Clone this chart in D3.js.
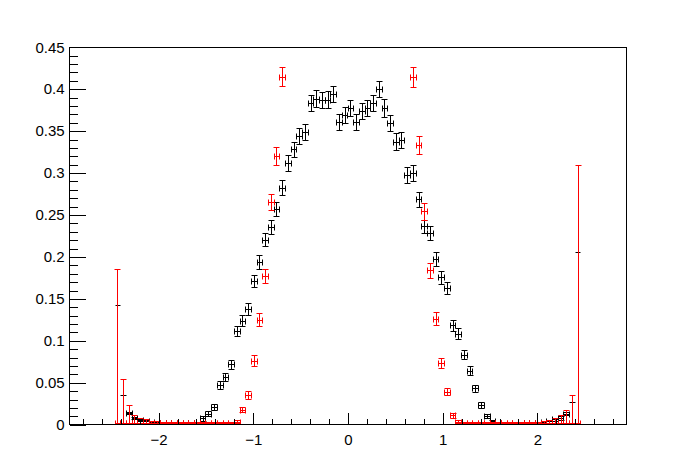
<!DOCTYPE html>
<html>
<head>
<meta charset="utf-8">
<script src="https://cdn.jsdelivr.net/npm/d3@7"></script>
<style>
  body { margin: 0; background: #fff; }
  svg { display: block; }
  text { font-family: "Liberation Sans", Arial, Helvetica, sans-serif; font-size: 15px; }
</style>
</head>
<body>
<div id="chart"></div>
<script>
// histogram binning: 98 bins from -2.94 to 2.94, data starts at bin 8
const xMin = -2.94, xMax = 2.94, nBins = 98;
const firstBin = 8;

// black histogram, bins 8..89
const blackValues = [
  0.142, 0.0347, 0.0137, 0.0077, 0.0054, 0.0045, 0.003, 0.002, 0.0015, 0.001, 0.001, 0.0008, 0.001, 0.001, 0.002,
  0.007, 0.0125, 0.021, 0.047, 0.0566, 0.0716, 0.111, 0.1237, 0.137, 0.171, 0.1936, 0.220, 0.235, 0.257,
  0.282, 0.311, 0.3275, 0.344, 0.3486, 0.383, 0.388, 0.386, 0.387, 0.394, 0.3605, 0.369, 0.377, 0.3605,
  0.373, 0.377, 0.383, 0.400, 0.377, 0.359, 0.337, 0.339, 0.297, 0.2997, 0.268, 0.236, 0.228, 0.197,
  0.1753, 0.1627, 0.118, 0.108, 0.083, 0.064, 0.0427, 0.0228, 0.0101, 0.0035,
  0.001, 0.0008, 0.0008, 0.001, 0.0012, 0.002, 0.002, 0.002, 0.003, 0.0036, 0.006, 0.0075, 0.0125, 0.0268, 0.2055
];
const blackErrors = [
  0, 0, 0.001, 0.0015, 0.001, 0.001, 0.001, 0.0008, 0.0008, 0.0008, 0.0008, 0.0008, 0.0008, 0.0008, 0.001,
  0.0026, 0.003, 0.0036, 0.005, 0.005, 0.0056, 0.0062, 0.0066, 0.0072, 0.0075, 0.0085, 0.008, 0.0083, 0.0083,
  0.0089, 0.0095, 0.0087, 0.0095, 0.0095, 0.0091, 0.0099, 0.0095, 0.0097, 0.0095, 0.0095, 0.0095, 0.0093, 0.0095,
  0.0095, 0.0095, 0.0095, 0.0095, 0.0103, 0.0095, 0.0097, 0.0093, 0.0091, 0.0095, 0.0091, 0.0079, 0.0087, 0.0081,
  0.0077, 0.0073, 0.0067, 0.0062, 0.0057, 0.0056, 0.0046, 0.0036, 0.0026, 0.0015,
  0.0008, 0.0008, 0.0008, 0.0008, 0.001, 0.001, 0.001, 0.001, 0.0015, 0.0015, 0.002, 0.002, 0.002, 0, 0
];

// red histogram, bins 8..89 (null = empty bin, not drawn)
const redValues = [
  0.0015, 0.0015, 0.0015, 0.0015, 0.0015, 0.0015, 0.0015, 0.0015, 0.0015, 0.0015, 0.0015, 0.0015, 0.0015, 0.0015, 0.0015,
  0.0015, 0.0015, 0.0015, 0.0015, 0.0015, 0.0015, 0.003, 0.0176, 0.035, 0.0757, 0.1245, 0.177, 0.265, 0.320,
  0.414, null, null, null, null, null, null, null, null, null, null, null, null, null,
  null, null, null, null, null, null, null, null, null, 0.414, 0.333, 0.254, 0.1833, 0.126,
  0.0725, 0.039, 0.0105, 0.003, 0.0015, 0.0015, 0.0015, 0.0015, 0.0015,
  0.0015, 0.0015, 0.0015, 0.0015, 0.0015, 0.0015, 0.002, 0.002, 0.002, 0.0015, 0.0015, 0.0015, 0.0015, 0.0015, 0.0015, 0.0015
];
const redErrors = [
  0.184, 0.052, 0.021, 0.0095, 0.0056, 0.0044, 0.0027, 0.002, 0.001, 0.001, 0.001, 0.001, 0.001, 0.001, 0.001,
  0.001, 0.001, 0.001, 0.001, 0.001, 0.001, 0.002, 0.0032, 0.0046, 0.0064, 0.0079, 0.0083, 0.0091, 0.0107,
  0.0113, null, null, null, null, null, null, null, null, null, null, null, null, null,
  null, null, null, null, null, null, null, null, null, 0.0115, 0.0107, 0.0101, 0.0095, 0.008,
  0.006, 0.0044, 0.0024, 0.002, 0.001, 0.001, 0.001, 0.001, 0.001,
  0.001, 0.001, 0.001, 0.001, 0.001, 0.001, 0.001, 0.001, 0.0012, 0.003, 0.0035, 0.0056, 0.0097, 0.016, 0.034, 0.307
];

const xMajorTicks = [-2, -1, 0, 1, 2];
const yMajorTicks = [0, 0.05, 0.1, 0.15, 0.2, 0.25, 0.3, 0.35, 0.4, 0.45];

const W = 696, H = 472;
const fLeft = 69.6, fRight = 626.4, fTop = 47.2, fBottom = 424.8;

const svg = d3.select("#chart").append("svg")
  .attr("width", W)
  .attr("height", H);

const x = d3.scaleLinear().domain([xMin, xMax]).range([fLeft, fRight]);
const y = d3.scaleLinear().domain([0, 0.45]).range([fBottom, fTop]);
const binW = (xMax - xMin) / nBins;
const snap = v => Math.round(v - 0.5) + 0.5;

svg.append("clipPath").attr("id", "frameClip")
  .append("rect")
  .attr("x", fLeft).attr("y", fTop)
  .attr("width", fRight - fLeft).attr("height", fBottom - fTop);

function toPoints(values, errors) {
  return values.map((v, i) => ({ k: firstBin + i, v: v, e: errors[i] }))
    .filter(d => d.v !== null);
}

function drawHist(points, color) {
  const g = svg.append("g")
    .attr("clip-path", "url(#frameClip)")
    .attr("stroke", color)
    .attr("stroke-width", 1)
    .attr("fill", "none");
  const cap = 3;
  points.forEach(d => {
    const c = xMin + binW * (d.k + 0.5);
    const x0 = snap(x(c - binW / 2)), x1 = snap(x(c + binW / 2)), xc = snap(x(c));
    const yv = snap(y(d.v));
    // horizontal (bin width) bar
    g.append("line").attr("x1", x0).attr("x2", x1).attr("y1", yv).attr("y2", yv);
    if (d.e > 0) {
      const yt = snap(y(d.v + d.e)), yb = snap(y(d.v - d.e));
      g.append("line").attr("x1", xc).attr("x2", xc).attr("y1", yt).attr("y2", yb);
      g.append("line").attr("x1", xc - cap).attr("x2", xc + cap).attr("y1", yt).attr("y2", yt);
      g.append("line").attr("x1", xc - cap).attr("x2", xc + cap).attr("y1", yb).attr("y2", yb);
      g.append("line").attr("x1", x0).attr("x2", x0).attr("y1", yv - cap).attr("y2", yv + cap);
      g.append("line").attr("x1", x1).attr("x2", x1).attr("y1", yv - cap).attr("y2", yv + cap);
    }
  });
}

drawHist(toPoints(blackValues, blackErrors), "#000");
drawHist(toPoints(redValues, redErrors), "#ff0000");

// frame
svg.append("rect")
  .attr("x", fLeft).attr("y", fTop)
  .attr("width", fRight - fLeft).attr("height", fBottom - fTop)
  .attr("fill", "none").attr("stroke", "#000").attr("stroke-width", 1)
  .attr("shape-rendering", "crispEdges");

// x axis: major and minor ticks pointing up into the frame
const xMinor = d3.range(-28, 29, 2).map(v => v / 10).filter(v => !xMajorTicks.includes(v));
const xAxisG = svg.append("g")
  .attr("transform", `translate(0,${fBottom})`)
  .call(d3.axisBottom(x).tickValues(xMajorTicks).tickSize(-11.3)
    .tickFormat(d => String(d).replace("-", "\u2212")));
xAxisG.select(".domain").remove();
xAxisG.selectAll("text").attr("font-size", 15).attr("fill", "#000").attr("dy", null).attr("y", 20.5);
svg.append("g")
  .attr("transform", `translate(0,${fBottom})`)
  .call(d3.axisBottom(x).tickValues(xMinor).tickSize(-5.7).tickFormat(""))
  .call(g => g.select(".domain").remove());

// y axis
const yMinor = d3.range(1, 45).map(v => v / 100).filter(v => Math.round(v * 100) % 5 !== 0);
const yAxisG = svg.append("g")
  .attr("transform", `translate(${fLeft},0)`)
  .call(d3.axisLeft(y).tickValues(yMajorTicks).tickSize(-16.7)
    .tickFormat(d => String(+d.toFixed(2))));
yAxisG.select(".domain").remove();
yAxisG.selectAll("text").attr("font-size", 15).attr("fill", "#000").attr("x", -5);
svg.append("g")
  .attr("transform", `translate(${fLeft},0)`)
  .call(d3.axisLeft(y).tickValues(yMinor).tickSize(-8.4).tickFormat(""))
  .call(g => g.select(".domain").remove());

svg.selectAll(".tick line").attr("stroke", "#000").attr("shape-rendering", "crispEdges");
</script>
</body>
</html>
